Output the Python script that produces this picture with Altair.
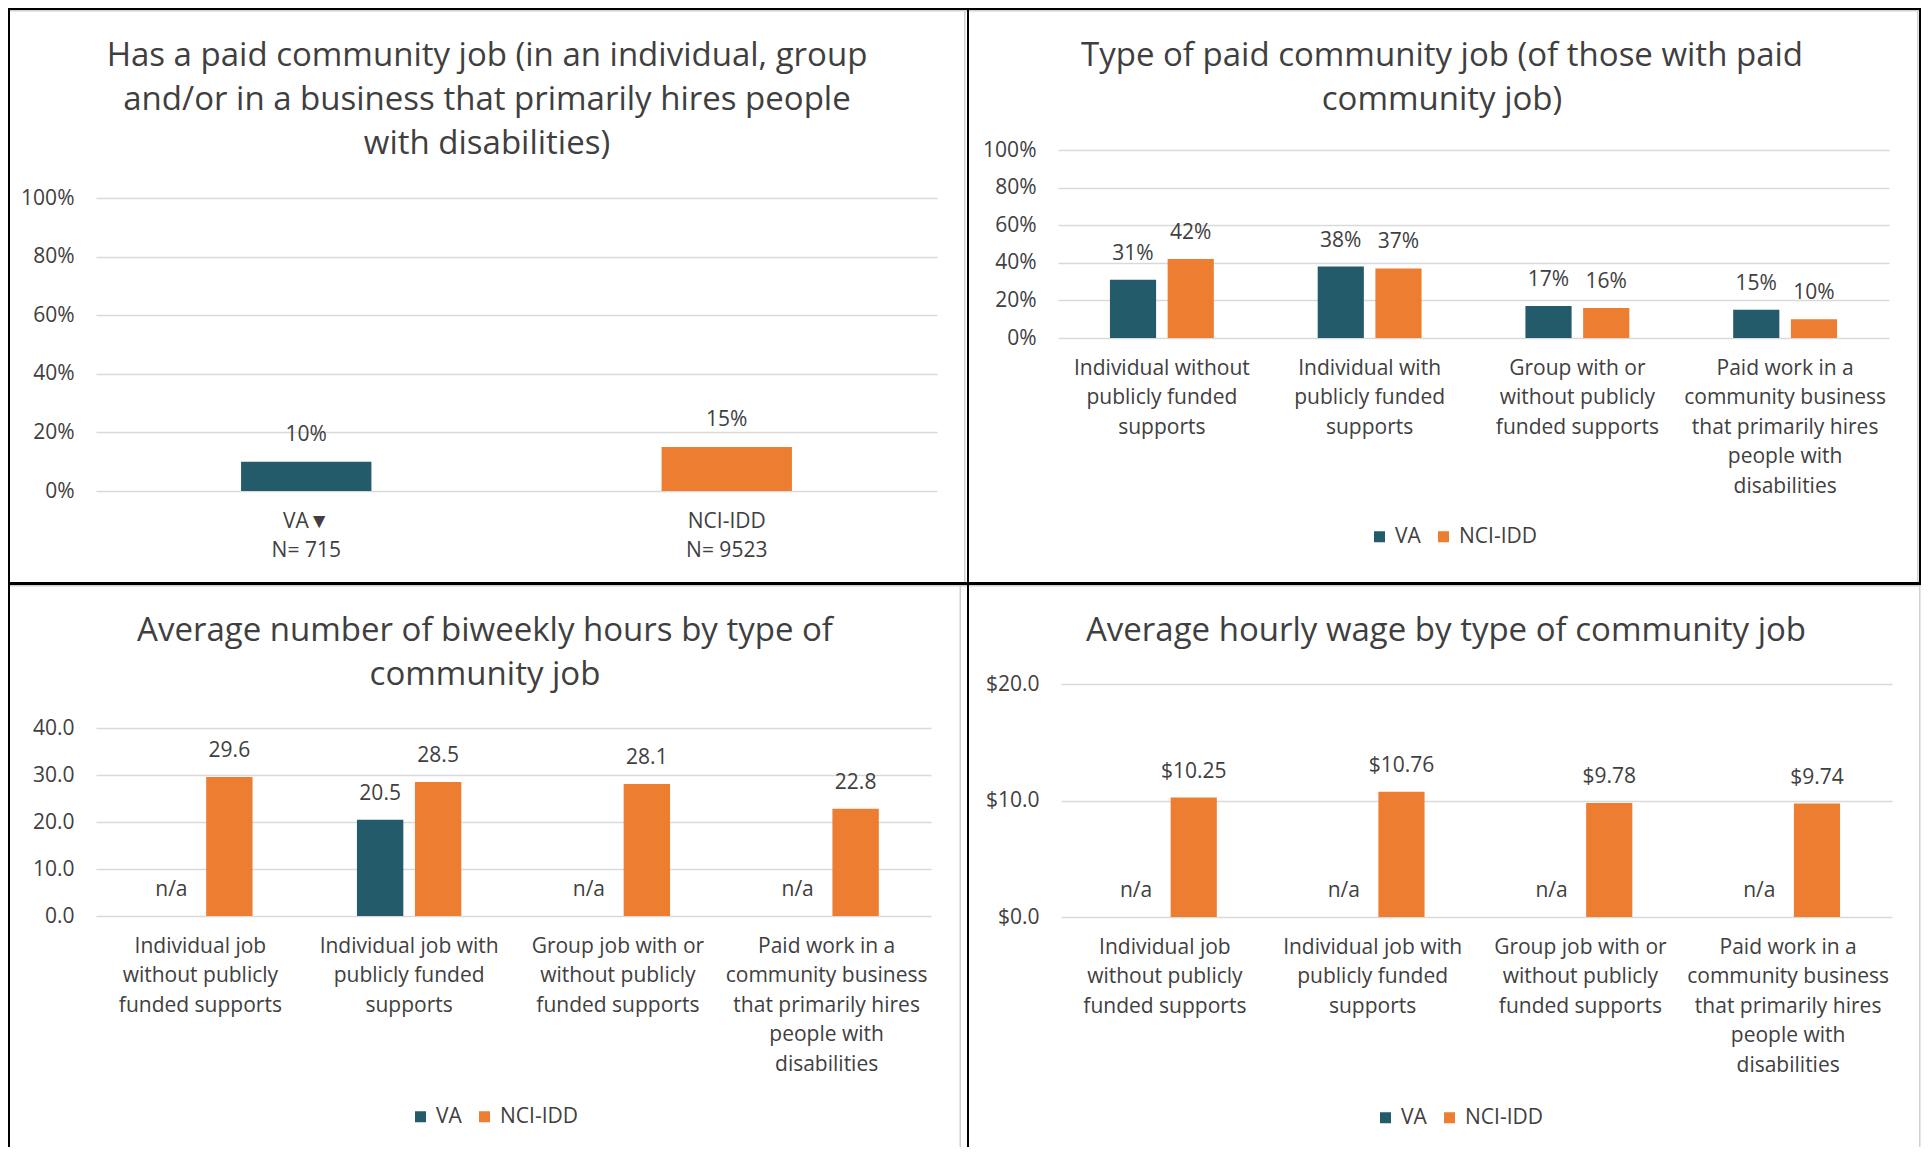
import altair as alt
import pandas as pd

FONT = "Open Sans"
TITLE_COLOR = "#3F3F3F"
TEXT_COLOR = "#404040"
GRID_COLOR = "#D9D9D9"
EDGE_COLOR = "#D0D0D0"
TITLE_SIZE = 33
LABEL_SIZE = 21

series = ["VA", "NCI-IDD"]
series_colors = ["#235B6A", "#ED7D31"]

# Panel 1
p1_title = ["Has a paid community job (in an individual, group",
            "and/or in a business that primarily hires people",
            "with disabilities)"]
p1_series = ["VA", "NCI-IDD"]
p1_categories = ["VA▼\nN= 715", "NCI-IDD\nN= 9523"]
p1_values = [0.10, 0.15]

# Panel 2
p2_title = ["Type of paid community job (of those with paid", "community job)"]
p2_categories = ["Individual without\npublicly funded\nsupports",
                 "Individual with\npublicly funded\nsupports",
                 "Group with or\nwithout publicly\nfunded supports",
                 "Paid work in a\ncommunity business\nthat primarily hires\npeople with\ndisabilities"]
p2_va = [0.31, 0.38, 0.17, 0.15]
p2_nci = [0.42, 0.37, 0.16, 0.10]

# Panels 3 and 4
job_categories = ["Individual job\nwithout publicly\nfunded supports",
                  "Individual job with\npublicly funded\nsupports",
                  "Group job with or\nwithout publicly\nfunded supports",
                  "Paid work in a\ncommunity business\nthat primarily hires\npeople with\ndisabilities"]
p3_title = ["Average number of biweekly hours by type of", "community job"]
p3_va = [None, 20.5, None, None]
p3_nci = [29.6, 28.5, 28.1, 22.8]

p4_title = ["Average hourly wage by type of community job"]
p4_va = [None, None, None, None]
p4_nci = [10.25, 10.76, 9.78, 9.74]

ONE = pd.DataFrame({"k": [0]})


def box(x1, x2, y1, y2, color, opacity=1):
    return alt.Chart(ONE).mark_rect(color=color, opacity=opacity).encode(
        x=alt.value(x1), x2=alt.value(x2), y=alt.value(y1), y2=alt.value(y2))


def frame(geom, top_w, grey_right, black_right=False):
    """Panel border: black frame lines plus the light grey chart-area edge."""
    W, H, L, T, R, B = geom
    layers = [box(-L, W + R, -T, H + B, "white", 0),
              box(-L, W + R, -T + top_w, -T + top_w + 1.5, EDGE_COLOR),
              box(W + R - grey_right - 1.5, W + R - grey_right, -T + top_w, H + B, EDGE_COLOR),
              box(-L, W + R, -T, -T + top_w, "black"),
              box(-L, -L + 2, -T, H + B, "black")]
    if black_right:
        layers.append(box(W + R - 2, W + R, -T, H + B, "black"))
    return layers


def title_layer(lines, cx, cy):
    return alt.Chart(ONE).mark_text(
        align="center", baseline="middle", fontSize=TITLE_SIZE, font=FONT,
        color=TITLE_COLOR, lineHeight=44).encode(
        x=alt.value(cx), y=alt.value(cy), text=alt.value(lines))


def x_axis():
    return alt.Axis(labelAngle=0, labelExpr="split(datum.label, '\\n')",
                    labelBaseline="top", labelPadding=19, labelLineHeight=29.5,
                    labelFontSize=LABEL_SIZE, labelFont=FONT, labelColor=TEXT_COLOR,
                    labelLimit=500, domain=False, ticks=False, tickSize=0,
                    grid=False, title=None, labelOverlap=False)


def y_axis(fmt, vals):
    return alt.Axis(format=fmt, values=vals, grid=True, gridColor=GRID_COLOR,
                    gridWidth=1.5, domain=False, ticks=False, tickSize=0,
                    labelPadding=22, labelFontSize=LABEL_SIZE, labelFont=FONT,
                    labelColor=TEXT_COLOR, title=None)


def legend(lx, ly):
    return alt.Legend(orient="none", legendX=lx, legendY=ly, direction="horizontal",
                      title=None, symbolType="square", symbolSize=121,
                      symbolStrokeWidth=0, labelFontSize=LABEL_SIZE, labelFont=FONT,
                      labelColor=TEXT_COLOR, columnPadding=12, labelOffset=5,
                      padding=0)


# ---------- Panel 1 (top-left) ----------
g1 = (841, 341, 88, 142, 30, 91)          # width, height, left, top, right, bottom
df1 = pd.DataFrame({"category": p1_categories, "series": p1_series, "value": p1_values})
df1["label"] = [f"{v:.0%}" for v in p1_values]
x1 = alt.X("category:N", sort=p1_categories,
           scale=alt.Scale(paddingInner=0.69, paddingOuter=0.345), axis=x_axis())
y1 = alt.Y("value:Q", scale=alt.Scale(domain=[0, 1], range=[341, 48]),
           axis=y_axis(".0%", [0, 0.2, 0.4, 0.6, 0.8, 1.0]))
c1 = alt.Color("series:N", scale=alt.Scale(domain=series, range=series_colors), legend=None)
bars1 = alt.Chart(df1).mark_bar().encode(x=x1, y=y1, color=c1)
text1 = alt.Chart(df1).mark_text(dy=-27, baseline="middle", fontSize=LABEL_SIZE, font=FONT,
                                  color=TEXT_COLOR).encode(x=x1, y=y1, text="label:N")
panel1 = alt.layer(*frame(g1, 2, 1.5), title_layer(p1_title, 391, -94),
                   bars1, text1).properties(width=g1[0], height=g1[1])


def grouped(cats, va, nci):
    rows = []
    for c, a, b in zip(cats, va, nci):
        rows.append({"category": c, "series": "VA", "value": a})
        rows.append({"category": c, "series": "NCI-IDD", "value": b})
    return pd.DataFrame(rows)


def grouped_panel(df, cats, yfmt, yvals, ymax, yrange, lblfmt, geom, title, tpos, lpos,
                  top_w, grey_right, black_right):
    W, H = geom[0], geom[1]
    x = alt.X("category:N", sort=cats,
              scale=alt.Scale(paddingInner=0.5, paddingOuter=0.25), axis=x_axis())
    xo = alt.XOffset("series:N", sort=series,
                     scale=alt.Scale(domain=series, paddingInner=0.2, paddingOuter=0))
    col = alt.Color("series:N", sort=series,
                    scale=alt.Scale(domain=series, range=series_colors),
                    legend=legend(*lpos))
    ysc = alt.Scale(domain=[0, ymax], range=yrange)
    bars = alt.Chart(df).mark_bar().encode(
        x=x, xOffset=xo, y=alt.Y("value:Q", scale=ysc, axis=y_axis(yfmt, yvals)), color=col)
    text = alt.Chart(df).transform_calculate(
        ypos="isValid(datum.value) ? datum.value : 0",
        label=f"isValid(datum.value) ? format(datum.value, '{lblfmt}') : 'n/a'"
    ).mark_text(dy=-26, baseline="middle", fontSize=LABEL_SIZE, font=FONT,
                color=TEXT_COLOR).encode(
        x=x, xOffset=xo, y=alt.Y("ypos:Q", scale=ysc, axis=y_axis(yfmt, yvals)),
        text="label:N")
    return alt.layer(*frame(geom, top_w, grey_right, black_right),
                     title_layer(title, *tpos), bars, text).properties(width=W, height=H)


# ---------- Panel 2 (top-right) ----------
g2 = (831, 188, 91, 142, 32, 244)
panel2 = grouped_panel(grouped(p2_categories, p2_va, p2_nci), p2_categories, ".0%",
                       [0, 0.2, 0.4, 0.6, 0.8, 1.0], 1, [188, 0], ".0%",
                       g2, p2_title, (384, -94), (311, 376), 2, 2.5, True)

# ---------- Panel 3 (bottom-left) ----------
g3 = (835, 232, 88, 102, 36, 231)
panel3 = grouped_panel(grouped(job_categories, p3_va, p3_nci), job_categories, ".1f",
                       [0, 10, 20, 30, 40], 40, [232, 44], ".1f",
                       g3, p3_title, (389, -53), (314, 422), 3, 6, False)

# ---------- Panel 4 (bottom-right) ----------
g4 = (831, 233, 94, 102, 29, 230)
panel4 = grouped_panel(grouped(job_categories, p4_va, p4_nci), job_categories, "$.1f",
                       [0, 10, 20], 20, [233, 0], "$.2f",
                       g4, p4_title, (385, -53), (314, 423), 3, 0.5, False)

row1 = alt.hconcat(panel1, panel2, spacing=0).resolve_scale(color="independent", xOffset="independent")
row2 = alt.hconcat(panel3, panel4, spacing=0).resolve_scale(color="independent", xOffset="independent")

chart = alt.vconcat(row1, row2, spacing=0).resolve_scale(
    color="independent", xOffset="independent").properties(
    padding={"left": 0, "top": 0, "right": 0, "bottom": 0}
).configure(font=FONT).configure_view(stroke=None)

chart.save("out.html", embed_options={"renderer": "svg", "actions": False})
